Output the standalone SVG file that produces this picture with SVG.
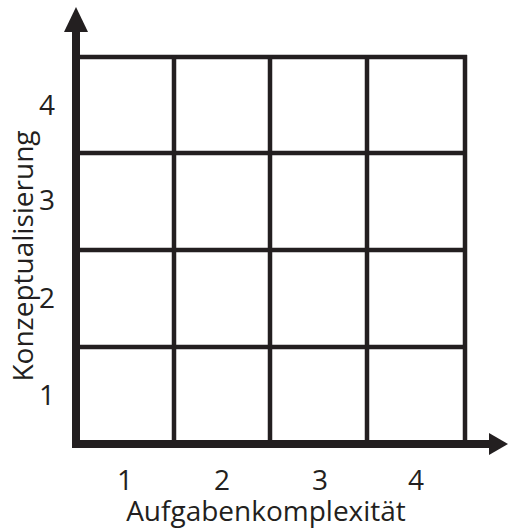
<svg xmlns="http://www.w3.org/2000/svg" width="508" height="528" viewBox="0 0 508 528">
<style>
.grid{stroke:#231f20;stroke-width:4.5;fill:none}
.axis{stroke:#231f20;stroke-width:8;fill:none}
.head{fill:#231f20}
text{font-family:"Open Sans","Noto Sans","Liberation Sans",sans-serif;font-size:28px;fill:#231f20;text-anchor:middle}
</style>
<rect width="508" height="528" fill="#ffffff"/>
<g id="connectors">
<line class="grid" x1="76" y1="57" x2="467" y2="57"/>
<line class="grid" x1="76" y1="153" x2="467" y2="153"/>
<line class="grid" x1="76" y1="250" x2="467" y2="250"/>
<line class="grid" x1="76" y1="347" x2="467" y2="347"/>
<line class="grid" x1="174" y1="55" x2="174" y2="444"/>
<line class="grid" x1="270" y1="55" x2="270" y2="444"/>
<line class="grid" x1="367" y1="55" x2="367" y2="444"/>
<line class="grid" x1="465" y1="55" x2="465" y2="444"/>
<line class="axis" x1="76" y1="30" x2="76" y2="448"/>
<line class="axis" x1="72" y1="444" x2="491" y2="444"/>
<polygon class="head" points="76,7 64,32 88,32"/>
<polygon class="head" points="508,444 489,433 489,455"/>
</g>
<g id="x-labels">
<text x="125" y="490">1</text>
<text x="222" y="490">2</text>
<text x="320" y="490">3</text>
<text x="416" y="490">4</text>
<text x="266" y="521">Aufgabenkomplexität</text>
</g>
<g id="y-labels">
<text x="47" y="115">4</text>
<text x="47" y="210">3</text>
<text x="47" y="308">2</text>
<text x="47" y="405">1</text>
<text transform="translate(33,256) rotate(-90)">Konzeptualisierung</text>
</g>
</svg>
